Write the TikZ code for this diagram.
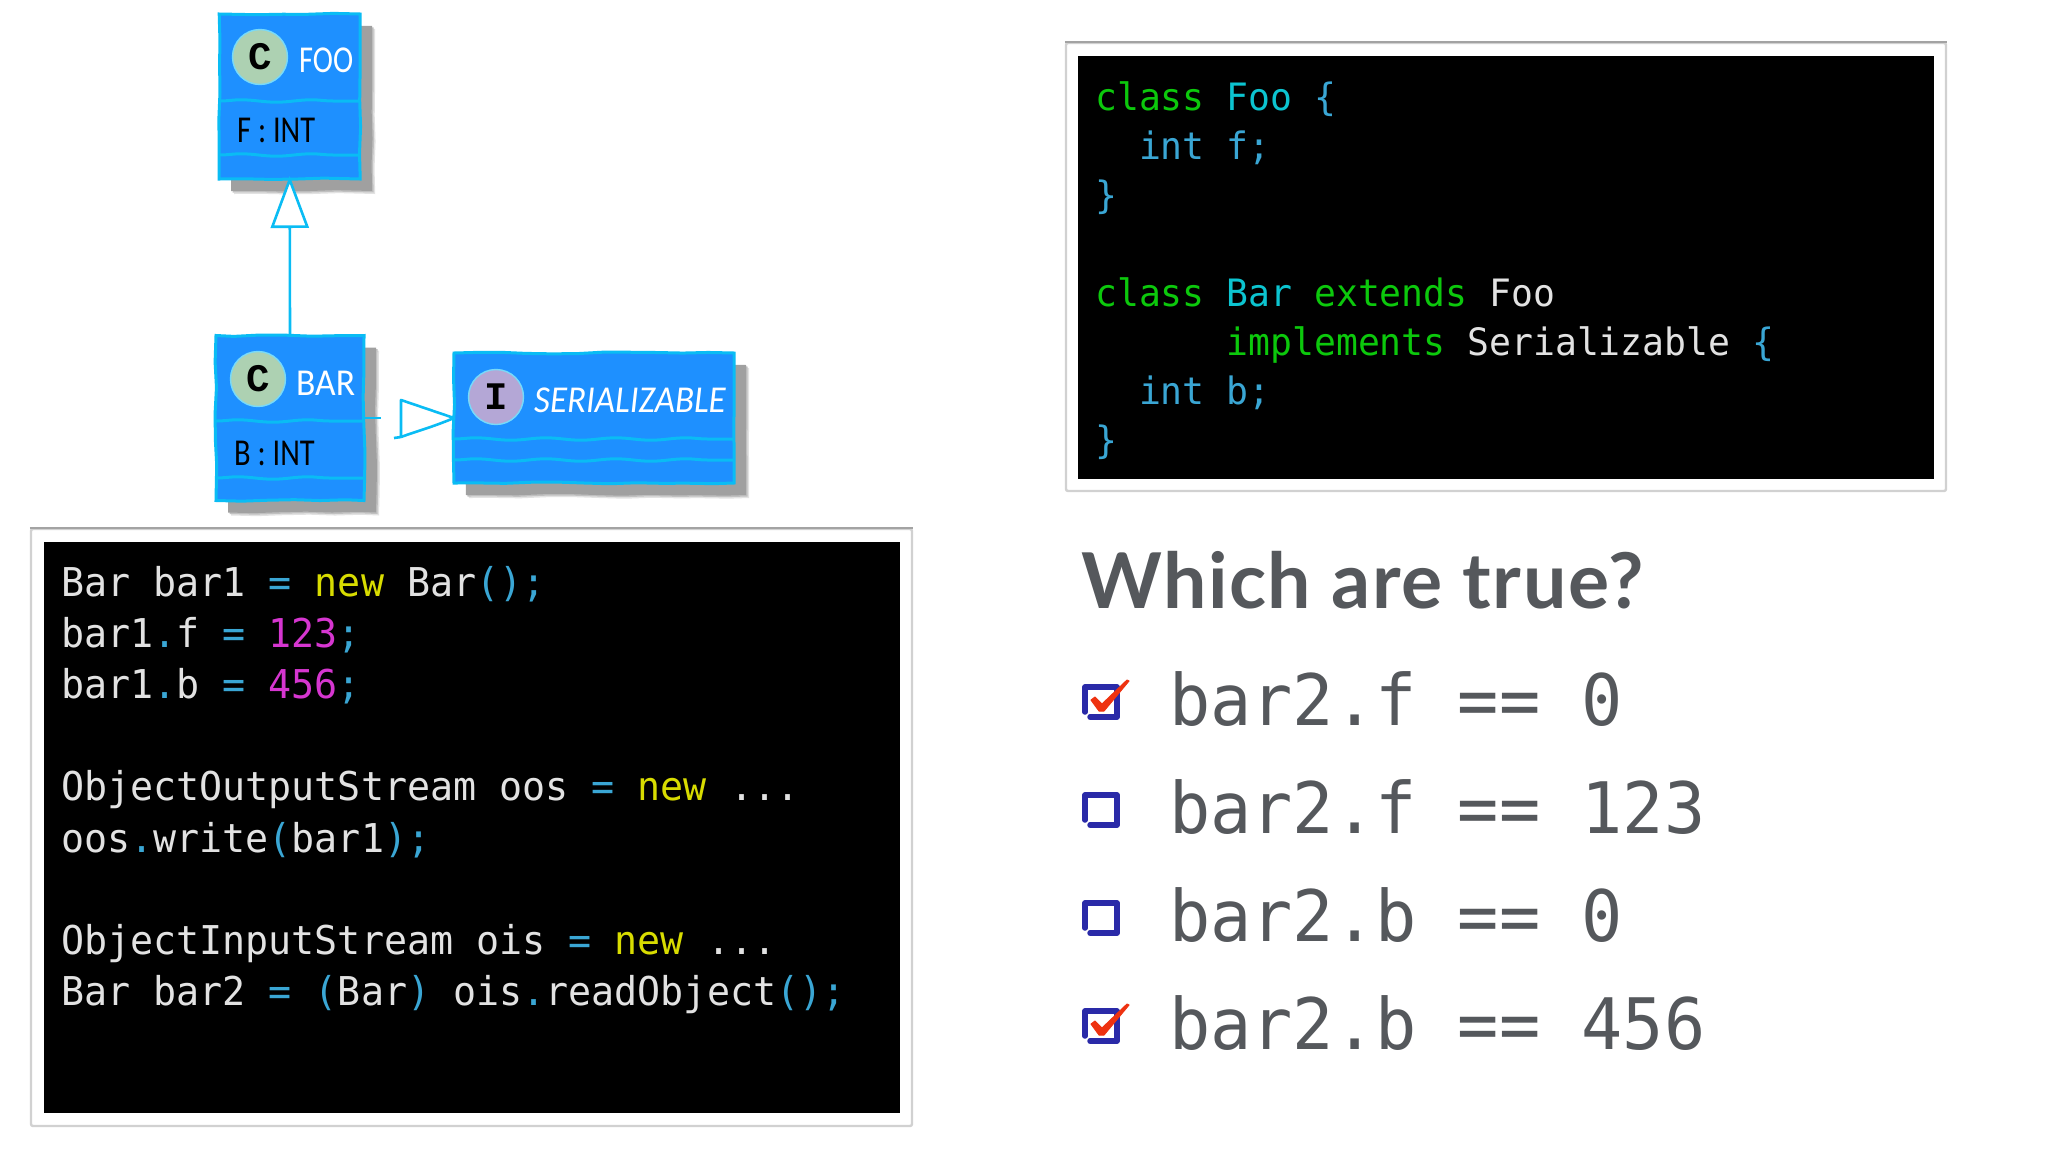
\documentclass[tikz,border=0pt]{standalone}
\usepackage{fontspec}
\usepackage{graphicx}
\usetikzlibrary{shadows,decorations.pathmorphing,arrows.meta,calc}
\newfontfamily\codefont[FakeStretch=0.965]{DejaVu Sans Mono}
\newfontfamily\handfont[FakeStretch=0.8]{Carlito}
\newfontfamily\badgefont{Liberation Mono}
\newfontfamily\headfont[LetterSpace=2]{Lato}
\definecolor{umlfill}{HTML}{1E90FF}
\definecolor{umlline}{HTML}{0ABCF4}
\definecolor{shadowdark}{HTML}{A0A0A0}
\definecolor{shadowmid}{HTML}{C0C0C0}
\definecolor{shadowsoft}{HTML}{E2E2E2}
\definecolor{badgegreen}{HTML}{ADD1B2}
\definecolor{badgepurple}{HTML}{B4A7D6}
\definecolor{kwgreen}{HTML}{0CC80C}
\definecolor{tname}{HTML}{0CC4D0}
\definecolor{punct}{HTML}{3AA6D4}
\definecolor{plain}{HTML}{E2E2E2}
\definecolor{newkw}{HTML}{D8DC00}
\definecolor{numc}{HTML}{D636D0}
\definecolor{slate}{HTML}{55585C}
\definecolor{chkblue}{HTML}{2A2AA8}
\definecolor{chkred}{HTML}{EE3210}
\newcommand{\kw}[1]{\textcolor{kwgreen}{#1}}
\newcommand{\tn}[1]{\textcolor{tname}{#1}}
\newcommand{\pu}[1]{\textcolor{punct}{#1}}
\newcommand{\nw}[1]{\textcolor{newkw}{#1}}
\newcommand{\nm}[1]{\textcolor{numc}{#1}}
\tikzset{
  wob/.style={decorate,decoration={random steps,segment length=26pt,amplitude=0.9pt}},
  wavy/.style={decorate,decoration={snake,segment length=70pt,amplitude=1.2pt}},
  umlbox/.style={rectangle,inner sep=0pt,outer sep=0pt,fill=umlfill,draw=umlline,line width=3pt,wob,
    drop shadow={shadow xshift=15pt,shadow yshift=-15pt,fill=shadowsoft,opacity=1},
    drop shadow={shadow xshift=13.5pt,shadow yshift=-13.5pt,fill=shadowmid,opacity=1},
    drop shadow={shadow xshift=12pt,shadow yshift=-12pt,fill=shadowdark,opacity=1}},
  divider/.style={draw=umlline,line width=3pt,wavy},
  badge/.style={circle,inner sep=0pt,outer sep=0pt,minimum size=55pt,draw=umlline!55!white,line width=1.4pt,text=black,
    font=\badgefont\bfseries\fontsize{39}{39}\selectfont},
  umlname/.style={inner sep=0pt,anchor=base west,text=white,font=\handfont\fontsize{38}{38}\selectfont},
  umlattr/.style={inner sep=0pt,anchor=base west,text=black,font=\handfont\fontsize{38}{38}\selectfont},
  conn/.style={draw=umlline,line width=2.6pt},
  frame/.style={rectangle,fill=white,draw=black!18,line width=2.4pt,rounded corners=2pt,inner sep=0pt},
  frametop/.style={draw=black!36,line width=2.4pt},
  panel/.style={rectangle,fill=black,inner sep=0pt,outer sep=0pt},
  codeL/.style={inner sep=0pt,anchor=base west,text=plain,font=\codefont\fontsize{39.7}{39.7}\selectfont},
  codeR/.style={inner sep=0pt,anchor=base west,text=plain,font=\codefont\fontsize{37.7}{37.7}\selectfont},
  item/.style={inner sep=0pt,anchor=base west,text=slate,font=\codefont\fontsize{71}{71}\selectfont},
  heading/.style={inner sep=0pt,anchor=base west,text=slate,font=\headfont\bfseries\fontsize{77}{77}\selectfont},
  chk/.style={draw=chkblue,line width=5.5pt,line cap=round,line join=round},
  tick/.style={fill=chkred,draw=chkred,line width=1pt,line join=round},
  arrowfree/.style={conn,fill=white,line join=round}
}
\begin{document}
\begin{tikzpicture}[x=1pt,y=-1pt]
\pgfmathsetseed{7}
\useasboundingbox (0,0) rectangle (2048,1152);
\fill[white] (0,0) rectangle (2048,1152);

% UML boxes
\node[umlbox,minimum width=141pt,minimum height=165pt] (foo) at (289.7,96.5) {};
\node[umlbox,minimum width=148pt,minimum height=165pt] (bar) at (290,418) {};
\node[umlbox,minimum width=280pt,minimum height=130pt] (ser) at (594,418) {};

\draw[divider] (219.4,101) -- (360,101);
\draw[divider] (219.4,155) -- (360,155);
\draw[divider] (216,421) -- (364,421);
\draw[divider] (216,478) -- (364,478);
\draw[divider] (454,439) -- (734,439);
\draw[divider] (454,460) -- (734,460);

\node[badge,fill=badgegreen] (cfoo) at (260,57) {C};
\node[badge,fill=badgegreen] (cbar) at (258,379) {C};
\node[badge,fill=badgepurple] (iser) at (496,397) {I};

\node[umlname] (tfoo) at (299,72) {FOO};
\node[umlname] (tbar) at (296,395) {\scalebox{1.17}[1]{BAR}};
\node[umlname,font=\handfont\itshape\fontsize{38}{38}\selectfont] (tser) at (534,412) {\scalebox{1.15}[1]{SERIALIZABLE}};
\node[umlattr] (afoo) at (237,142) {F : INT};
\node[umlattr] (abar) at (234,465) {B : INT};

% Connectors
\draw[conn,shorten >=-3pt,-{Triangle[open,fill=white,length=52pt,width=38pt,line width=2.6pt]}] (bar.north) -- (foo.south);
\coordinate (stub) at (381,418);
\coordinate (tritop) at (401,400);
\coordinate (tribot) at (401,437);
\coordinate (tritail) at (394,438);
\draw[conn] (bar.east) -- (stub);
\draw[arrowfree] (ser.west) -- (tritop) -- (tribot) -- (tritail);
\draw[arrowfree] (tribot) .. controls (420,430) and (430,428) .. (ser.west);

% Left code panel
\node[frame,minimum width=881pt,minimum height=597pt] (lframe) at (471.5,827.5) {};
\draw[frametop] (lframe.north west) -- (lframe.north east);
\node[panel,minimum width=856pt,minimum height=571pt] (lpanel) at (472,827.5) {};
\node[codeL] (l1) at (61,596) {Bar bar1 \pu{=} \nw{new} Bar\pu{();}};
\node[codeL] (l2) at (61,647.2) {bar1\pu{.}f \pu{=} \nm{123}\pu{;}};
\node[codeL] (l3) at (61,698.4) {bar1\pu{.}b \pu{=} \nm{456}\pu{;}};
\node[codeL] (l4) at (61,800.8) {ObjectOutputStream oos \pu{=} \nw{new} ...};
\node[codeL] (l5) at (61,852) {oos\pu{.}write\pu{(}bar1\pu{);}};
\node[codeL] (l6) at (61,954.4) {ObjectInputStream ois \pu{=} \nw{new} ...};
\node[codeL] (l7) at (61,1005.6) {Bar bar2 \pu{=} \pu{(}Bar\pu{)} ois\pu{.}readObject\pu{();}};

% Right code panel
\node[frame,minimum width=880pt,minimum height=448pt] (rframe) at (1506,267) {};
\draw[frametop] (rframe.north west) -- (rframe.north east);
\node[panel,minimum width=856pt,minimum height=423pt] (rpanel) at (1506,267.5) {};
\node[codeR] (r1) at (1095,110) {\kw{class} \tn{Foo} \pu{\{}};
\node[codeR] (r2) at (1095,159) {\pu{\ \ int f;}};
\node[codeR] (r3) at (1095,208) {\pu{\}}};
\node[codeR] (r4) at (1095,306) {\kw{class} \tn{Bar} \kw{extends} Foo};
\node[codeR] (r5) at (1095,355) {\ \ \ \ \ \ \kw{implements} Serializable \pu{\{}};
\node[codeR] (r6) at (1095,404) {\pu{\ \ int b;}};
\node[codeR] (r7) at (1095,453) {\pu{\}}};

% Question
\node[heading] (q) at (1081,608) {Which are true?};
\node[item] (i1) at (1169,725) {bar2.f == 0};
\node[item] (i2) at (1169,833) {bar2.f == 123};
\node[item] (i3) at (1169,941) {bar2.b == 0};
\node[item] (i4) at (1169,1049) {bar2.b == 456};

% Check boxes
\foreach \dy in {0,108,216,324}{
  \draw[chk,shift={(0,\dy)}] (1090,717) -- (1117,717) -- (1117,687) -- (1085,687) -- (1085,712);
}
\foreach \dy in {0,324}{
  \fill[tick,shift={(0,\dy)}] (1091,700) -- (1095,697) -- (1102,704) -- (1127,680) -- (1129,681) -- (1104,711) -- (1099,711) -- cycle;
}
\end{tikzpicture}
\end{document}
